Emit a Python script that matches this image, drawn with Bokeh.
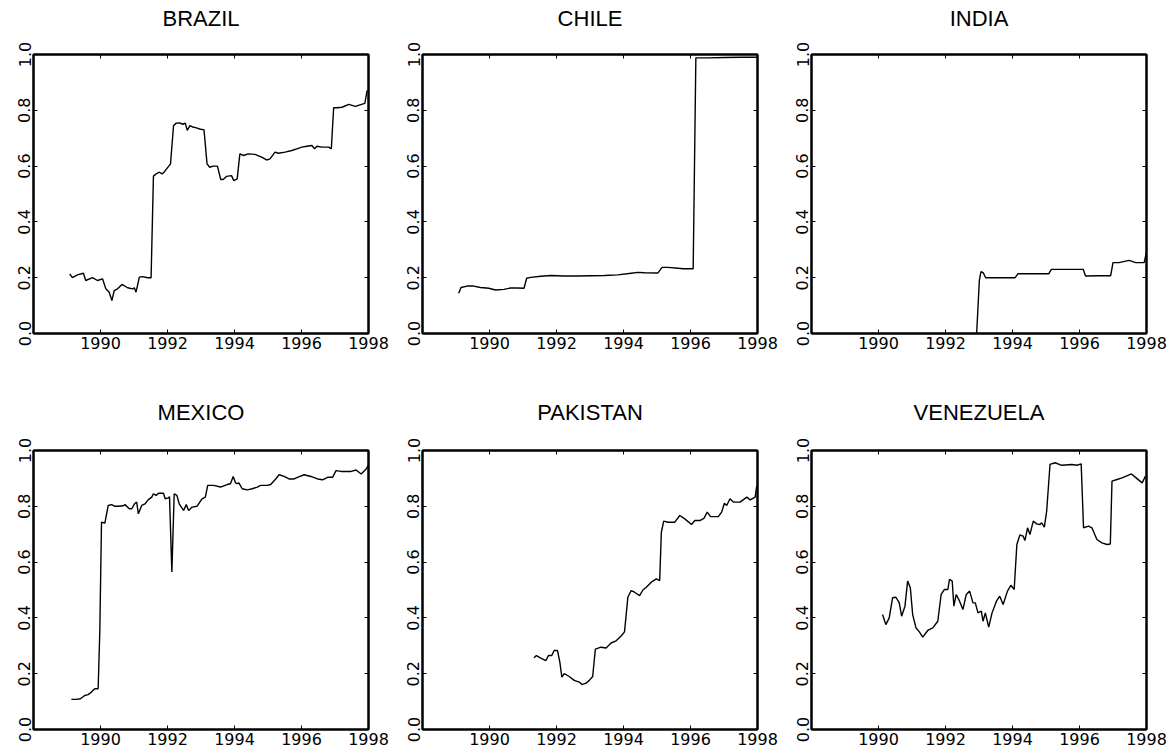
from bokeh.plotting import figure
from bokeh.layouts import column, row
from bokeh.models import Range1d, FixedTicker, LinearAxis, PrintfTickFormatter
from bokeh.embed import file_html
from bokeh.resources import INLINE

x_ticks = [1990, 1992, 1994, 1996, 1998]
y_ticks = [0.0, 0.2, 0.4, 0.6, 0.8, 1.0]
titles = ["BRAZIL", "CHILE", "INDIA", "MEXICO", "PAKISTAN", "VENEZUELA"]

brazil_x = [1989.08, 1989.16, 1989.31, 1989.49, 1989.56, 1989.76, 1989.91, 1990.06, 1990.16, 1990.26,
            1990.34, 1990.41, 1990.51, 1990.64, 1990.81, 1990.96, 1991.01, 1991.06, 1991.16, 1991.26,
            1991.41, 1991.51, 1991.58, 1991.66, 1991.76, 1991.84, 1991.91, 1992.09, 1992.18, 1992.26,
            1992.36, 1992.46, 1992.53, 1992.59, 1992.67, 1992.76, 1992.86, 1992.96, 1993.09, 1993.18,
            1993.26, 1993.36, 1993.49, 1993.59, 1993.66, 1993.76, 1993.91, 1993.98, 1994.08, 1994.16,
            1994.26, 1994.41, 1994.61, 1994.81, 1994.96, 1995.06, 1995.21, 1995.31, 1995.51, 1995.71,
            1995.86, 1996.01, 1996.16, 1996.31, 1996.39, 1996.46, 1996.61, 1996.81, 1996.89, 1996.96,
            1997.06, 1997.21, 1997.41, 1997.61, 1997.79, 1997.89, 1997.96]
brazil_y = [0.214, 0.200, 0.210, 0.216, 0.190, 0.200, 0.190, 0.196, 0.160, 0.148,
            0.118, 0.154, 0.160, 0.176, 0.164, 0.160, 0.164, 0.148, 0.202, 0.204,
            0.200, 0.200, 0.564, 0.572, 0.578, 0.572, 0.580, 0.608, 0.745, 0.754,
            0.755, 0.750, 0.754, 0.728, 0.745, 0.740, 0.737, 0.733, 0.730, 0.608,
            0.596, 0.600, 0.600, 0.552, 0.552, 0.563, 0.566, 0.548, 0.554, 0.644,
            0.638, 0.644, 0.642, 0.632, 0.622, 0.626, 0.650, 0.646, 0.650, 0.656,
            0.662, 0.668, 0.671, 0.674, 0.662, 0.671, 0.668, 0.668, 0.662, 0.809,
            0.809, 0.811, 0.821, 0.814, 0.821, 0.825, 0.871]

chile_x = [1989.08, 1989.15, 1989.33, 1989.53, 1989.73, 1989.98, 1990.18, 1990.43, 1990.63, 1990.83,
           1991.03, 1991.11, 1991.23, 1991.53, 1991.83, 1992.23, 1992.63, 1993.03, 1993.43, 1993.83,
           1994.23, 1994.43, 1994.63, 1995.03, 1995.15, 1995.33, 1995.63, 1995.78, 1996.08, 1996.16,
           1996.53, 1997.03, 1997.53, 1997.98]
chile_y = [0.144, 0.165, 0.170, 0.170, 0.165, 0.162, 0.156, 0.158, 0.163, 0.163,
           0.162, 0.198, 0.201, 0.205, 0.208, 0.206, 0.206, 0.207, 0.208, 0.210,
           0.216, 0.219, 0.218, 0.217, 0.237, 0.237, 0.234, 0.232, 0.232, 0.988,
           0.988, 0.989, 0.990, 0.990]

india_x = [1992.93, 1993.01, 1993.06, 1993.13, 1993.20, 1993.48, 1993.88, 1994.08, 1994.16, 1994.48,
           1995.08, 1995.16, 1995.68, 1996.11, 1996.18, 1996.58, 1996.93, 1997.00, 1997.18, 1997.48,
           1997.68, 1997.93, 1997.99]
india_y = [0.000, 0.190, 0.222, 0.217, 0.200, 0.200, 0.200, 0.200, 0.214, 0.214,
           0.214, 0.230, 0.230, 0.230, 0.206, 0.207, 0.207, 0.254, 0.254, 0.262,
           0.254, 0.254, 0.287]

mexico_x = [1989.13, 1989.28, 1989.40, 1989.53, 1989.63, 1989.73, 1989.83, 1989.93, 1989.98, 1990.03,
            1990.13, 1990.23, 1990.33, 1990.43, 1990.53, 1990.68, 1990.73, 1990.86, 1990.93, 1991.03,
            1991.08, 1991.13, 1991.23, 1991.33, 1991.43, 1991.53, 1991.58, 1991.66, 1991.73, 1991.88,
            1991.93, 1992.03, 1992.06, 1992.13, 1992.20, 1992.28, 1992.35, 1992.48, 1992.56, 1992.63,
            1992.73, 1992.88, 1993.03, 1993.13, 1993.20, 1993.38, 1993.58, 1993.78, 1993.88, 1993.96,
            1994.03, 1994.08, 1994.13, 1994.23, 1994.38, 1994.53, 1994.68, 1994.78, 1994.98, 1995.08,
            1995.23, 1995.33, 1995.48, 1995.63, 1995.78, 1995.88, 1996.08, 1996.28, 1996.48, 1996.63,
            1996.78, 1996.93, 1997.03, 1997.18, 1997.48, 1997.63, 1997.78, 1997.93, 1997.99]
mexico_y = [0.108, 0.108, 0.110, 0.122, 0.125, 0.134, 0.146, 0.146, 0.355, 0.743,
            0.740, 0.803, 0.806, 0.800, 0.800, 0.802, 0.806, 0.791, 0.791, 0.811,
            0.815, 0.773, 0.803, 0.809, 0.824, 0.833, 0.845, 0.839, 0.847, 0.847,
            0.827, 0.830, 0.835, 0.565, 0.845, 0.839, 0.809, 0.785, 0.806, 0.785,
            0.797, 0.800, 0.827, 0.833, 0.875, 0.875, 0.869, 0.878, 0.881, 0.907,
            0.884, 0.881, 0.884, 0.863, 0.859, 0.863, 0.869, 0.875, 0.875, 0.878,
            0.898, 0.913, 0.907, 0.898, 0.898, 0.904, 0.913, 0.907, 0.898, 0.895,
            0.904, 0.904, 0.928, 0.925, 0.925, 0.930, 0.916, 0.934, 0.946]

pakistan_x = [1991.33, 1991.40, 1991.53, 1991.68, 1991.76, 1991.86, 1991.93, 1992.03, 1992.10, 1992.16,
              1992.23, 1992.38, 1992.53, 1992.68, 1992.76, 1992.88, 1992.98, 1993.08, 1993.16, 1993.33,
              1993.48, 1993.63, 1993.78, 1993.93, 1994.03, 1994.13, 1994.23, 1994.33, 1994.48, 1994.58,
              1994.68, 1994.83, 1994.98, 1995.08, 1995.13, 1995.20, 1995.33, 1995.53, 1995.68, 1995.83,
              1996.03, 1996.13, 1996.28, 1996.40, 1996.50, 1996.60, 1996.83, 1996.93, 1997.01, 1997.08,
              1997.18, 1997.28, 1997.48, 1997.68, 1997.78, 1997.93, 1997.98]
pakistan_y = [0.257, 0.265, 0.256, 0.247, 0.265, 0.265, 0.283, 0.283, 0.241, 0.188,
              0.200, 0.190, 0.176, 0.170, 0.161, 0.166, 0.176, 0.190, 0.288, 0.295,
              0.292, 0.310, 0.318, 0.335, 0.350, 0.474, 0.498, 0.492, 0.480, 0.500,
              0.510, 0.528, 0.540, 0.534, 0.707, 0.747, 0.743, 0.743, 0.767, 0.755,
              0.735, 0.749, 0.749, 0.757, 0.779, 0.763, 0.763, 0.779, 0.811, 0.803,
              0.827, 0.815, 0.815, 0.833, 0.823, 0.833, 0.875]

venezuela_x = [1990.12, 1990.22, 1990.32, 1990.42, 1990.52, 1990.62, 1990.69, 1990.79, 1990.87, 1990.95,
               1991.02, 1991.12, 1991.22, 1991.32, 1991.47, 1991.62, 1991.77, 1991.87, 1991.97, 1992.07,
               1992.12, 1992.20, 1992.25, 1992.32, 1992.42, 1992.52, 1992.62, 1992.72, 1992.82, 1992.89,
               1992.97, 1993.07, 1993.12, 1993.19, 1993.29, 1993.39, 1993.52, 1993.62, 1993.72, 1993.85,
               1993.95, 1994.05, 1994.13, 1994.22, 1994.32, 1994.37, 1994.45, 1994.52, 1994.62, 1994.72,
               1994.82, 1994.87, 1994.95, 1995.02, 1995.12, 1995.27, 1995.47, 1995.77, 1995.92, 1996.05,
               1996.12, 1996.27, 1996.37, 1996.52, 1996.67, 1996.82, 1996.92, 1996.97, 1997.12, 1997.27,
               1997.55, 1997.69, 1997.87, 1997.97]
venezuela_y = [0.412, 0.376, 0.400, 0.472, 0.474, 0.454, 0.406, 0.442, 0.532, 0.508,
               0.412, 0.364, 0.350, 0.331, 0.355, 0.364, 0.388, 0.484, 0.502, 0.502,
               0.538, 0.532, 0.442, 0.484, 0.460, 0.430, 0.484, 0.496, 0.454, 0.454,
               0.418, 0.424, 0.388, 0.418, 0.367, 0.418, 0.460, 0.478, 0.448, 0.496,
               0.517, 0.502, 0.663, 0.697, 0.693, 0.677, 0.723, 0.699, 0.747, 0.737,
               0.735, 0.741, 0.725, 0.783, 0.950, 0.956, 0.947, 0.950, 0.947, 0.952,
               0.723, 0.729, 0.723, 0.681, 0.669, 0.663, 0.665, 0.890, 0.896, 0.902,
               0.916, 0.902, 0.884, 0.908]

series = [(brazil_x, brazil_y), (chile_x, chile_y), (india_x, india_y),
          (mexico_x, mexico_y), (pakistan_x, pakistan_y), (venezuela_x, venezuela_y)]

TICK_FONT = "DejaVu Sans"
TITLE_FONT = "Liberation Sans"


def style_axis(ax, show_labels=True):
    ax.axis_line_color = "black"
    ax.axis_line_width = 2
    ax.major_tick_line_color = "black"
    ax.major_tick_line_width = 1
    ax.major_tick_in = 4
    ax.major_tick_out = 0
    ax.minor_tick_line_color = None
    if show_labels:
        ax.major_label_text_font = TICK_FONT
        ax.major_label_text_font_size = "16px"
        ax.major_label_text_color = "black"
        ax.major_label_standoff = 3
    else:
        ax.major_label_text_color = None
        ax.major_label_text_font_size = "1px"
        ax.major_label_standoff = 0


def make_panel(i, width, height, bl, br, bt, bb, title_gap):
    xs, ys = series[i]
    p = figure(width=width, height=height, x_range=Range1d(1988, 1998), y_range=Range1d(0, 1),
               output_backend="svg", toolbar_location=None,
               min_border_left=bl, min_border_right=br, min_border_top=bt, min_border_bottom=bb)
    p.xgrid.visible = False
    p.ygrid.visible = False
    p.outline_line_color = "black"
    p.outline_line_width = 2
    p.background_fill_color = "white"
    p.border_fill_color = "white"

    p.xaxis.ticker = FixedTicker(ticks=x_ticks)
    p.yaxis.ticker = FixedTicker(ticks=y_ticks)
    p.yaxis.formatter = PrintfTickFormatter(format="%.1f")
    p.yaxis.major_label_orientation = "vertical"
    style_axis(p.xaxis[0])
    style_axis(p.yaxis[0])

    top = LinearAxis(ticker=FixedTicker(ticks=x_ticks))
    style_axis(top, show_labels=False)
    p.add_layout(top, "above")
    right = LinearAxis(ticker=FixedTicker(ticks=y_ticks))
    style_axis(right, show_labels=False)
    p.add_layout(right, "right")

    p.title.text = titles[i]
    p.title.align = "center"
    p.title.text_font = TITLE_FONT
    p.title.text_font_size = "22px"
    p.title.text_font_style = "normal"
    p.title.text_color = "black"
    p.title.standoff = 0
    p.title.padding = dict(left=0, right=0, top=0, bottom=title_gap)

    p.line(xs, ys, line_color="black", line_width=1.4)
    return p


W = 389
row1 = row(*[make_panel(i, W, 370, 33, 21, 54, 37, 24) for i in range(3)], spacing=0)
row2 = row(*[make_panel(3 + i, W, 382, 33, 21, 80, 23, 26) for i in range(3)], spacing=0)
layout = column(row1, row2, spacing=0)

open("out.html", "w").write(file_html(layout, INLINE))
